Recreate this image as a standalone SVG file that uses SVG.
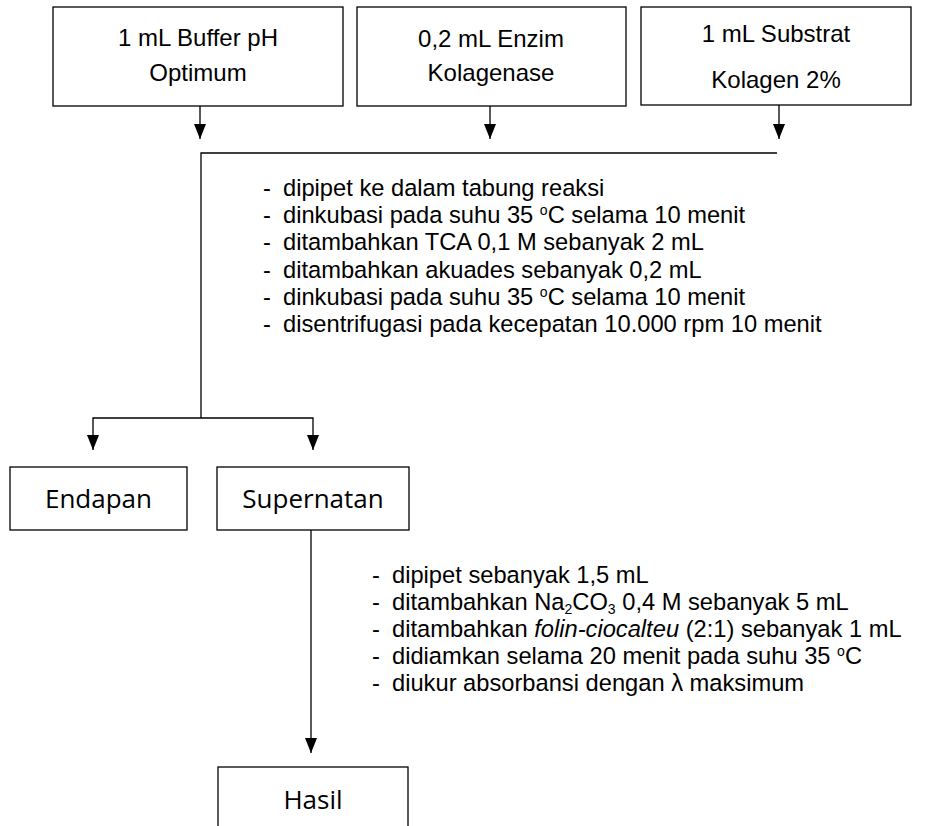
<svg xmlns="http://www.w3.org/2000/svg" width="945" height="826" viewBox="0 0 945 826">
<defs>
<marker id="ah" markerUnits="userSpaceOnUse" markerWidth="16" markerHeight="12" refX="15" refY="6" orient="auto" viewBox="0 0 16 12">
<path d="M0,0 L15,6 L0,12 Z" fill="#000"/>
</marker>
<style>
.box{fill:#fff;stroke:#000;stroke-width:1.3}
.ln{fill:none;stroke:#000;stroke-width:1.3}
.ar{fill:none;stroke:#000;stroke-width:1.3;marker-end:url(#ah)}
.t{font-family:"Liberation Sans",Arial,sans-serif;font-size:24px;fill:#000}
.b{font-family:"Liberation Sans",Arial,sans-serif;font-size:23.7px;fill:#000}
.c{font-family:"Open Sans","Noto Sans",sans-serif;font-size:26px;fill:#000}
.m{text-anchor:middle}
.sp{font-size:14px}
</style>
</defs>
<rect width="945" height="826" fill="#fff"/>
<g id="buffer">
<rect class="box" x="53" y="7" width="290" height="99"/>
<text class="t m" x="198" y="46">1 mL Buffer pH</text>
<text class="t m" x="198" y="81">Optimum</text>
</g>
<g id="enzim">
<rect class="box" x="357" y="7" width="269" height="99"/>
<text class="t m" x="491" y="47">0,2 mL Enzim</text>
<text class="t m" x="491" y="81">Kolagenase</text>
</g>
<g id="substrat">
<rect class="box" x="641" y="7" width="270" height="98"/>
<text class="t m" x="776" y="42">1 mL Substrat</text>
<text class="t m" x="776" y="88">Kolagen 2%</text>
</g>
<g id="steps1">
<text class="b" x="263" y="196"><tspan>-</tspan><tspan x="283">dipipet ke dalam tabung reaksi</tspan></text>
<text class="b" x="263" y="223"><tspan>-</tspan><tspan x="283">dinkubasi pada suhu 35 </tspan><tspan class="sp" dy="-8">o</tspan><tspan dy="8">C selama 10 menit</tspan></text>
<text class="b" x="263" y="250"><tspan>-</tspan><tspan x="283">ditambahkan TCA 0,1 M sebanyak 2 mL</tspan></text>
<text class="b" x="263" y="278"><tspan>-</tspan><tspan x="283">ditambahkan akuades sebanyak 0,2 mL</tspan></text>
<text class="b" x="263" y="305"><tspan>-</tspan><tspan x="283">dinkubasi pada suhu 35 </tspan><tspan class="sp" dy="-8">o</tspan><tspan dy="8">C selama 10 menit</tspan></text>
<text class="b" x="263" y="332"><tspan>-</tspan><tspan x="283">disentrifugasi pada kecepatan 10.000 rpm 10 menit</tspan></text>
</g>
<g id="endapan">
<rect class="box" x="10" y="467" width="177" height="63"/>
<text class="c m" x="98.5" y="508">Endapan</text>
</g>
<g id="supernatan">
<rect class="box" x="217" y="467" width="192" height="63"/>
<text class="c m" x="313" y="508">Supernatan</text>
</g>
<g id="steps2">
<text class="b" x="372" y="583"><tspan>-</tspan><tspan x="392">dipipet sebanyak 1,5 mL</tspan></text>
<text class="b" x="372" y="610"><tspan>-</tspan><tspan x="392">ditambahkan Na</tspan><tspan class="sp" dy="4">2</tspan><tspan dy="-4">CO</tspan><tspan class="sp" dy="4">3</tspan><tspan dy="-4"> 0,4 M sebanyak 5 mL</tspan></text>
<text class="b" x="372" y="637"><tspan>-</tspan><tspan x="392">ditambahkan </tspan><tspan font-style="italic">folin-ciocalteu</tspan><tspan> (2:1) sebanyak 1 mL</tspan></text>
<text class="b" x="372" y="664"><tspan>-</tspan><tspan x="392">didiamkan selama 20 menit pada suhu 35 </tspan><tspan class="sp" dy="-8">o</tspan><tspan dy="8">C</tspan></text>
<text class="b" x="372" y="691"><tspan>-</tspan><tspan x="392">diukur absorbansi dengan λ maksimum</tspan></text>
</g>
<g id="hasil">
<rect class="box" x="218" y="767" width="190" height="80"/>
<text class="c m" x="313" y="809">Hasil</text>
</g>
<g id="connectors">
<line class="ar" x1="200" y1="106" x2="200" y2="139"/>
<line class="ar" x1="490" y1="106" x2="490" y2="139"/>
<line class="ar" x1="779" y1="105" x2="779" y2="139"/>
<path class="ln" d="M777,153 H201 V418"/>
<path class="ar" d="M201,418 H93 V450"/>
<path class="ar" d="M201,418 H313 V450"/>
<line class="ar" x1="311" y1="530" x2="311" y2="753"/>
</g>
</svg>
